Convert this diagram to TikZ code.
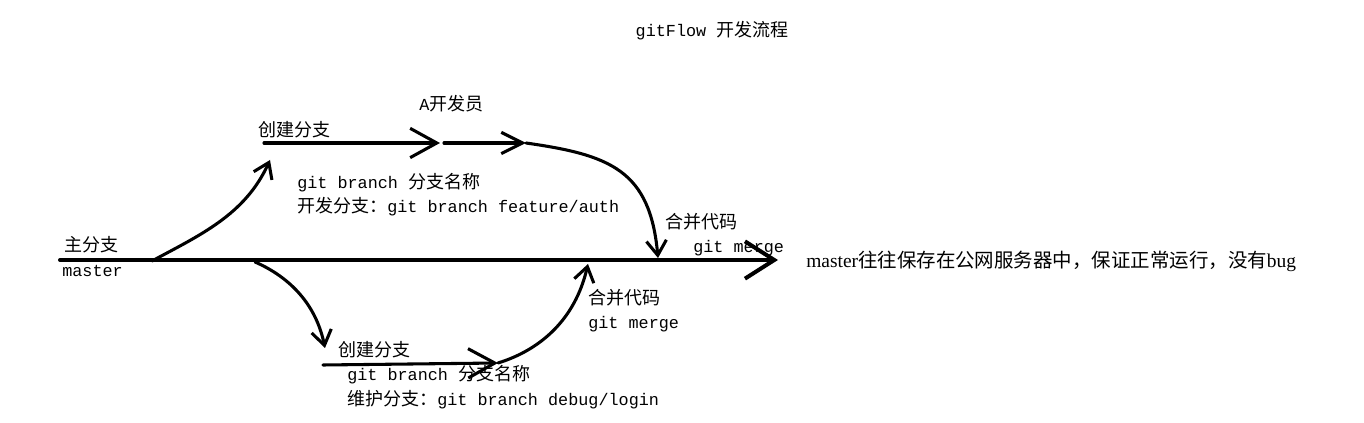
\documentclass[tikz,border=0pt]{standalone}
\usepackage{fontspec}
\setmainfont{Liberation Mono}
\newfontfamily\cjk{Noto Sans CJK SC}
\newfontfamily\lserif{Liberation Serif}
\newcommand{\zh}[1]{{\cjk\fontsize{13.5}{16}\selectfont #1}}
\usetikzlibrary{arrows.meta}
\tikzstyle{txt}=[anchor=base west,inner sep=0pt,font=\fontsize{12.6}{14}\selectfont]
\tikzstyle{trunk}=[line width=3pt]
\tikzstyle{branch}=[line width=2.3pt]
\tikzstyle{bigtip}=[-{Straight Barb[length=22pt,width=28pt]}]
\tikzstyle{midtip}=[-{Straight Barb[length=20pt,width=22pt]}]
\tikzstyle{endtip}=[-{Straight Barb[length=16pt,width=16pt]}]
\tikzstyle{curvetip}=[-{Straight Barb[length=11pt,width=15pt]}]

\begin{document}
\begin{tikzpicture}[x=0.75pt,y=-0.75pt,line cap=round,line join=round]
    \useasboundingbox (0,0) rectangle (1364,423);

    \node[txt,anchor=base] (title) at (712,37) {gitFlow \zh{开发流程}};

    % MASTER PART

    \coordinate (m0) at (60,260);
    \coordinate (m1) at (778,260);
    \coordinate (f1) at (152,261);
    \coordinate (f2) at (255,262);
    \coordinate (j1) at (658,258);
    \coordinate (j2) at (588,264);

    \draw[trunk,bigtip] (m0) -- (m1);

    \node[txt] (main) at (64,252) {\zh{主分支}};
    \node[txt] (master) at (62,277) {master};
    \node[txt,font=\lserif\fontsize{14.6}{16}\selectfont] (note) at (806,268) {master{\cjk 往往保存在公网服务器中，保证正常运行，没有}bug};

    % FEATURE PART

    \coordinate (c1) at (270,160);
    \coordinate (a0) at (264,143);
    \coordinate (a1) at (440,143);
    \coordinate (a2) at (444,143);
    \coordinate (a3) at (526,143);

    \draw[branch,curvetip] (f1) .. controls (200,235) and (245,215) .. (c1);
    \draw[branch,midtip] (a0) -- (a1);
    \draw[branch,endtip] (a2) -- (a3);
    \draw[branch,curvetip] (a3) .. controls (610,155) and (650,170) .. (j1);

    \node[txt] (fnew) at (258,137) {\zh{创建分支}};
    \node[txt] (dev) at (419,111) {A\zh{开发员}};
    \node[txt] (fcmd) at (297,189) {git branch \zh{分支名称}};
    \node[txt] (fname) at (297,213) {\zh{开发分支：}git branch feature/auth};
    \node[txt] (fmerge) at (665,229) {\zh{合并代码}};
    \node[txt] (fgit) at (693,253) {git merge};

    % DEBUG PART

    \coordinate (c2) at (325,348);
    \coordinate (b0) at (323,365);
    \coordinate (b1) at (498,363);

    \draw[branch,curvetip] (f2) .. controls (285,275) and (315,300) .. (c2);
    \draw[branch,midtip] (b0) -- (b1);
    \draw[branch,curvetip] (b1) .. controls (540,350) and (575,320) .. (j2);

    \node[txt] (dnew) at (338,357) {\zh{创建分支}};
    \node[txt] (dcmd) at (347,381) {git branch \zh{分支名称}};
    \node[txt] (dname) at (347,406) {\zh{维护分支：}git branch debug/login};
    \node[txt] (dmerge) at (588,305) {\zh{合并代码}};
    \node[txt] (dgit) at (588,329) {git merge};

\end{tikzpicture}
\end{document}
